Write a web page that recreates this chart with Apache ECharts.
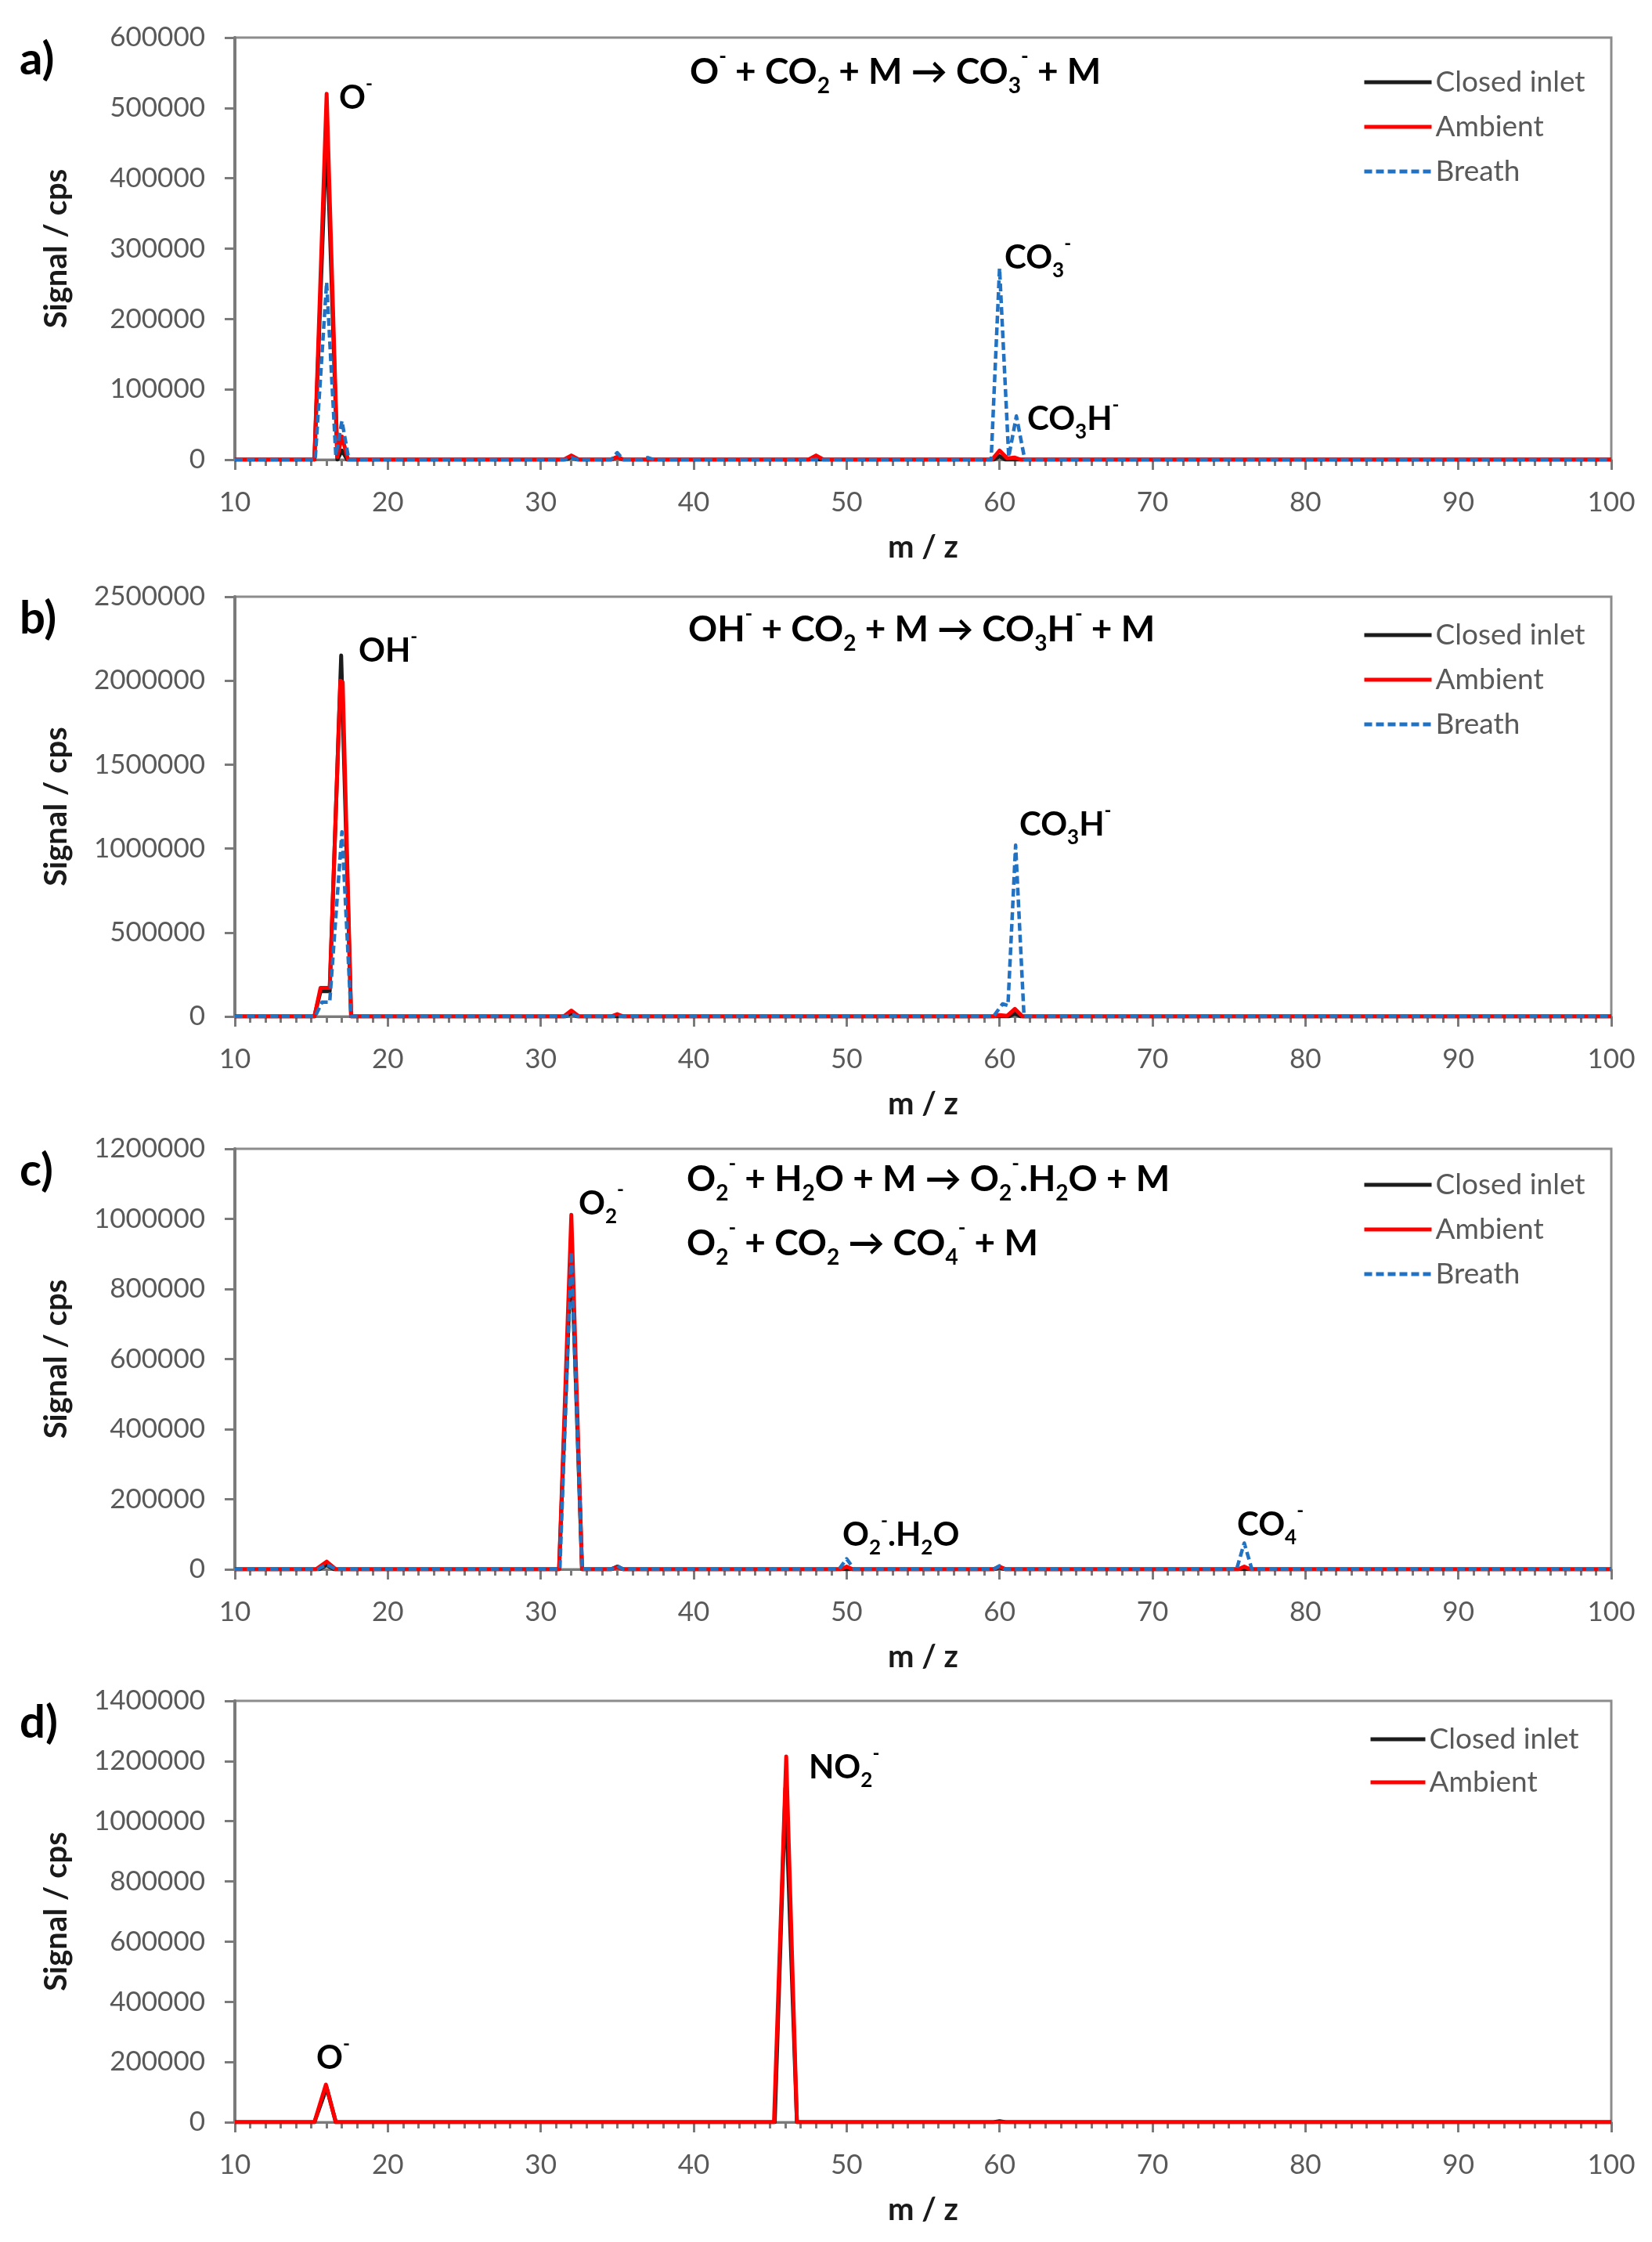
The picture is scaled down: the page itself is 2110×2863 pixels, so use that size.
<!DOCTYPE html>
<html><head><meta charset="utf-8">
<script src="https://cdn.jsdelivr.net/npm/echarts/dist/echarts.min.js"></script>
<style>html,body{margin:0;padding:0;background:#fff}#c{width:2110px;height:2863px}</style>
</head><body><div id="c"></div>
<script>
// ---------- data (m/z, signal in cps) ----------
const mzTicks = [10, 20, 30, 40, 50, 60, 70, 80, 90, 100];
const yAxisMax = [600000, 2500000, 1200000, 1400000];
const yAxisStep = [100000, 500000, 200000, 200000];
const seriesNames = ['Closed inlet', 'Ambient', 'Breath'];

const closedA = [[10,0],[15.2,0],[16,470000],[16.7,0],[17,13000],[17.35,0],[31.6,0],[32,4000],[32.4,0],[34.6,0],[35,4000],[35.4,0],[59.6,0],[60,5000],[60.4,0],[100,0]];
const ambientA = [[10,0],[15.2,0],[16,520000],[16.7,4000],[17,33000],[17.4,0],[31.5,0],[32,6000],[32.5,0],[34.6,0],[35,4000],[35.4,0],[47.5,0],[48,6000],[48.5,0],[59.5,0],[60,13000],[60.5,2000],[61,3000],[61.4,0],[100,0]];
const breathA = [[10,0],[15.25,0],[16,252000],[16.6,6000],[17,55000],[17.45,0],[31.6,0],[32,3000],[32.4,0],[34.6,0],[35,10000],[35.4,0],[36.6,0],[37,3000],[37.4,0],[59.45,0],[60,272000],[60.6,4000],[61.1,62000],[61.65,0],[100,0]];

const closedB = [[10,0],[15.2,0],[15.6,150000],[16.2,150000],[16.95,2150000],[17.6,0],[31.6,0],[32,20000],[32.4,0],[60.6,0],[61,18000],[61.4,0],[100,0]];
const ambientB = [[10,0],[15.2,0],[15.6,170000],[16.2,170000],[16.9,2000000],[17.05,1990000],[17.6,0],[31.5,0],[32,35000],[32.5,0],[34.6,0],[35,14000],[35.4,0],[59.6,0],[60,8000],[60.5,4000],[61,45000],[61.5,0],[100,0]];
const breathB = [[10,0],[15.25,0],[15.7,85000],[16.2,85000],[17,1100000],[17.6,0],[31.6,0],[32,15000],[32.4,0],[59.6,0],[60.2,75000],[60.55,65000],[61.05,1020000],[61.6,0],[100,0]];

const closedC = [[10,0],[15.5,0],[16,12000],[16.5,0],[31.2,0],[32,920000],[32.7,0],[34.6,0],[35,8000],[35.4,0],[59.6,0],[60,5000],[60.4,0],[100,0]];
const ambientC = [[10,0],[15.3,0],[16,22000],[16.6,0],[31.2,0],[32,1012000],[32.7,0],[34.6,0],[35,6000],[35.4,0],[49.6,0],[50,8000],[50.4,0],[59.6,0],[60,8000],[60.4,0],[75.6,0],[76,8000],[76.4,0],[100,0]];
const breathC = [[10,0],[15.4,0],[16,14000],[16.6,0],[31.25,0],[32,905000],[32.7,0],[34.6,0],[35,10000],[35.4,0],[49.5,0],[50,30000],[50.5,0],[59.6,0],[60,10000],[60.4,0],[75.5,0],[76,75000],[76.5,0],[100,0]];

const closedD = [[10,0],[15.2,0],[16,115000],[16.6,0],[45.3,0],[46,1110000],[46.75,0],[59.6,0],[60,3000],[60.4,0],[100,0]];
const ambientD = [[10,0],[15.2,0],[15.95,125000],[16.6,0],[45.25,0],[46.05,1215000],[46.75,0],[100,0]];

const panelSeries = [
  [closedA, ambientA, breathA],
  [closedB, ambientB, breathB],
  [closedC, ambientC, breathC],
  [closedD, ambientD]
];
const panelLetters = ['a)', 'b)', 'c)', 'd)'];

// ---------- layout / styles ----------
const FONT = 'Lato, "Open Sans", "Liberation Sans", sans-serif';
const grids = [
  {left: 300, top: 48, width: 1758, height: 539},
  {left: 300, top: 762, width: 1758, height: 536},
  {left: 300, top: 1467, width: 1758, height: 537},
  {left: 300, top: 2172, width: 1758, height: 538}
];
const legendPos = [
  {left: 1740, top: 85, itemWidth: 86, itemGap: 17},
  {left: 1740, top: 791, itemWidth: 86, itemGap: 17},
  {left: 1740, top: 1493, itemWidth: 86, itemGap: 17},
  {left: 1748, top: 2201, itemWidth: 70, itemGap: 15}
];
const lineStyles = [
  {color: '#1c1c1c', width: 5, type: 'solid'},
  {color: '#ff0000', width: 5, type: 'solid'},
  {color: '#2272c3', width: 4.5, type: [10, 5]}
];
const axisGrey = '#7a7a7a';

const rich = {
  m:   {fontSize: 46, fontWeight: 'bold', fontFamily: FONT, lineHeight: 64, fill: '#000', color: '#000'},
  sub: {fontSize: 28, fontWeight: 'bold', fontFamily: FONT, lineHeight: 28, verticalAlign: 'bottom', fill: '#000', color: '#000'},
  sup: {fontSize: 26, fontWeight: 'bold', fontFamily: FONT, lineHeight: 32, verticalAlign: 'top', fill: '#000', color: '#000'},
  pm:  {fontSize: 42, fontWeight: 'bold', fontFamily: FONT, lineHeight: 60, fill: '#000', color: '#000'},
  psub:{fontSize: 26, fontWeight: 'bold', fontFamily: FONT, lineHeight: 26, verticalAlign: 'bottom', fill: '#000', color: '#000'},
  psup:{fontSize: 24, fontWeight: 'bold', fontFamily: FONT, lineHeight: 30, verticalAlign: 'top', fill: '#000', color: '#000'}
};
const AR = '\u2192';
const texts = [
  // equations
  ['{m|O}{sup|-}{m| + CO}{sub|2}{m| + M ' + AR + ' CO}{sub|3}{sup|-}{m| + M}', 881, 92],
  ['{m|OH}{sup|-}{m| + CO}{sub|2}{m| + M ' + AR + ' CO}{sub|3}{m|H}{sup|-}{m| + M}', 879, 804],
  ['{m|O}{sub|2}{sup|-}{m| + H}{sub|2}{m|O + M ' + AR + ' O}{sub|2}{sup|-}{m|.H}{sub|2}{m|O + M}', 877, 1506],
  ['{m|O}{sub|2}{sup|-}{m| + CO}{sub|2}{m| ' + AR + ' CO}{sub|4}{sup|-}{m| + M}', 877, 1588],
  // peak labels
  ['{pm|O}{psup|-}', 433, 125],
  ['{pm|CO}{psub|3}{psup|-}', 1283, 329],
  ['{pm|CO}{psub|3}{pm|H}{psup|-}', 1312, 535],
  ['{pm|OH}{psup|-}', 458, 831],
  ['{pm|CO}{psub|3}{pm|H}{psup|-}', 1302, 1053],
  ['{pm|O}{psub|2}{psup|-}', 739, 1537],
  ['{pm|O}{psub|2}{psup|-}{pm|.H}{psub|2}{pm|O}', 1076, 1960],
  ['{pm|CO}{psub|4}{psup|-}', 1580, 1947],
  ['{pm|O}{psup|-}', 404, 2628],
  ['{pm|NO}{psub|2}{psup|-}', 1033, 2257]
];

// ---------- build option ----------
const option = {
  animation: false,
  backgroundColor: '#fff',
  textStyle: {fontFamily: FONT},
  grid: [], xAxis: [], yAxis: [], series: [], legend: [], graphic: []
};

grids.forEach((g, i) => {
  option.grid.push(Object.assign({show: true, borderColor: '#8c8c8c', borderWidth: 3, backgroundColor: 'transparent', containLabel: false, outerBoundsMode: 'none'}, g));
  option.xAxis.push({
    gridIndex: i, type: 'value', min: mzTicks[0], max: mzTicks[mzTicks.length - 1], interval: mzTicks[1] - mzTicks[0],
    axisLine: {show: true, onZero: false, lineStyle: {color: axisGrey, width: 3}},
    axisTick: {show: true, length: 13, lineStyle: {color: axisGrey, width: 3}},
    minorTick: {show: true, splitNumber: 10, length: 8, lineStyle: {color: axisGrey, width: 3}},
    splitLine: {show: false}, minorSplitLine: {show: false},
    axisLabel: {fontSize: 35, color: '#595959', margin: 37, fontFamily: FONT, hideOverlap: false},
    name: 'm / z', nameLocation: 'middle', nameGap: 92,
    nameTextStyle: {fontSize: 40, fontWeight: 'bold', color: '#1a1a1a', fontFamily: FONT}
  });
  option.yAxis.push({
    gridIndex: i, type: 'value', min: 0, max: yAxisMax[i], interval: yAxisStep[i],
    axisLine: {show: true, lineStyle: {color: axisGrey, width: 4}},
    axisTick: {show: true, length: 13, lineStyle: {color: axisGrey, width: 3}},
    splitLine: {show: false},
    axisLabel: {fontSize: 35, color: '#595959', margin: 38, fontFamily: FONT, formatter: v => String(v), hideOverlap: false},
    name: 'Signal / cps', nameLocation: 'middle', nameGap: 208, nameRotate: 90,
    nameTextStyle: {fontSize: 40, fontWeight: 'bold', color: '#1a1a1a', fontFamily: FONT}
  });
  const names = [];
  panelSeries[i].forEach((d, k) => {
    names.push(seriesNames[k]);
    option.series.push({
      type: 'line', name: seriesNames[k], xAxisIndex: i, yAxisIndex: i, data: d,
      showSymbol: false, symbol: 'none', smooth: false, z: 2 + k,
      color: lineStyles[k].color,
      lineStyle: {color: lineStyles[k].color, width: lineStyles[k].width, type: lineStyles[k].type, join: 'round'}
    });
  });
  const lp = legendPos[i];
  option.legend.push({
    show: true, orient: 'vertical', left: lp.left, top: lp.top, itemWidth: lp.itemWidth, itemHeight: 2,
    itemGap: lp.itemGap, padding: 0, selectedMode: false, data: names,
    itemStyle: {opacity: 0},
    lineStyle: {width: 5},
    textStyle: {fontSize: 37, color: '#595959', fontFamily: FONT, lineHeight: 40}
  });
  option.graphic.push({
    type: 'text', x: 25, y: g.top + 28, z: 100,
    style: {text: panelLetters[i], fontSize: 58, fontWeight: 'bold', fontFamily: FONT, fill: '#000', align: 'left', verticalAlign: 'middle'}
  });
});

texts.forEach(t => {
  option.graphic.push({
    type: 'text', x: t[1], y: t[2], z: 100,
    style: {text: t[0], rich: rich, align: 'left', verticalAlign: 'middle', fill: '#000', fontFamily: FONT}
  });
});

const chart = echarts.init(document.getElementById('c'), null, {renderer: 'canvas'});
chart.setOption(option);
</script>
</body></html>
